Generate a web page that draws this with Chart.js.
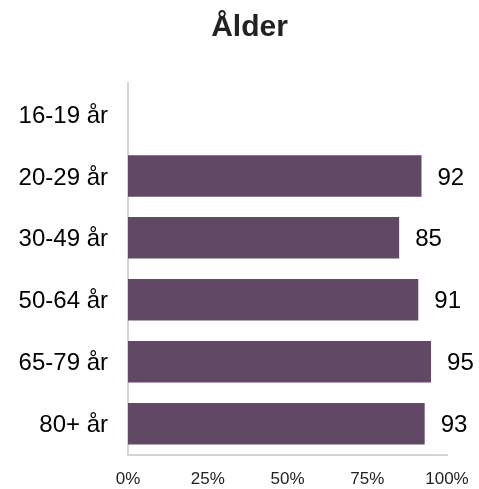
<!DOCTYPE html>
<html lang="sv">
<head>
    <meta charset="UTF-8">
    <script src="https://cdn.jsdelivr.net/npm/chart.js"></script>
    <title>Ålder</title>
    <style>
      html, body { margin: 0; padding: 0; background: #fff; }
      #wrap { width: 479px; height: 489px; }
    </style>
</head>
<body>
    <div id="wrap">
      <canvas id="grafico"></canvas>
    </div>

    <script>
        // data
        const kategorier = ['16-19 år', '20-29 år', '30-49 år', '50-64 år', '65-79 år', '80+ år']
        const varden = [null, 92, 85, 91, 95, 93]
        const xTicks = [0, 25, 50, 75, 100]

        const fontFamily = '"Liberation Sans", Arial, sans-serif'

        // siffror till höger om staplarna
        const etiketter = {
          id: 'etiketter',
          afterLayout(chart) {
            // titeln står lite till höger om mitten i originalet
            chart.titleBlock.left = 52
          },
          afterDatasetsDraw(chart) {
            const ctx = chart.ctx
            const meta = chart.getDatasetMeta(0)
            ctx.save()
            ctx.font = '24px ' + fontFamily
            ctx.fillStyle = '#000'
            ctx.textAlign = 'left'
            ctx.textBaseline = 'middle'
            meta.data.forEach((bar, i) => {
              const v = varden[i]
              if (v === null || v === undefined) return
              ctx.fillText(String(v), bar.x + 16, bar.y + 2)
            })
            ctx.restore()
          }
        }

        const ctx = document.getElementById('grafico')
        const grafico = new Chart(ctx, {
          type: 'bar',
          data: {
            labels: kategorier,
            datasets: [{
              data: varden,
              backgroundColor: '#614865',
              borderWidth: 0,
              barPercentage: 0.67,
              categoryPercentage: 1
            }]
          },
          options: {
            indexAxis: 'y',
            responsive: true,
            maintainAspectRatio: false,
            animation: false,
            layout: { padding: { left: 0, right: 32, top: 0, bottom: 0 } },
            plugins: {
              legend: { display: false },
              tooltip: { enabled: false },
              title: {
                display: true,
                text: 'Ålder',
                color: '#222',
                font: { family: fontFamily, size: 30, weight: 'bold' },
                padding: { top: 10, bottom: 37 }
              }
            },
            scales: {
              x: {
                min: 0,
                max: 100,
                afterBuildTicks(scale) {
                  scale.ticks = xTicks.map(v => ({ value: v }))
                },
                afterFit(scale) {
                  scale.height = 32
                  scale.paddingLeft = 0
                  scale.paddingRight = 0
                },
                grid: { display: false, drawTicks: false },
                border: { display: true, color: '#d4d4d4', width: 2 },
                ticks: {
                  padding: 15,
                  color: '#222',
                  font: { family: fontFamily, size: 17 },
                  callback: v => v + '%'
                }
              },
              y: {
                afterFit(scale) { scale.width = 128 },
                grid: { display: false, drawTicks: false },
                border: { display: true, color: '#d4d4d4', width: 2 },
                ticks: {
                  padding: 20,
                  labelOffset: 2,
                  color: '#000',
                  font: { family: fontFamily, size: 24 }
                }
              }
            }
          },
          plugins: [etiketter]
        })
    </script>
</body>
</html>
